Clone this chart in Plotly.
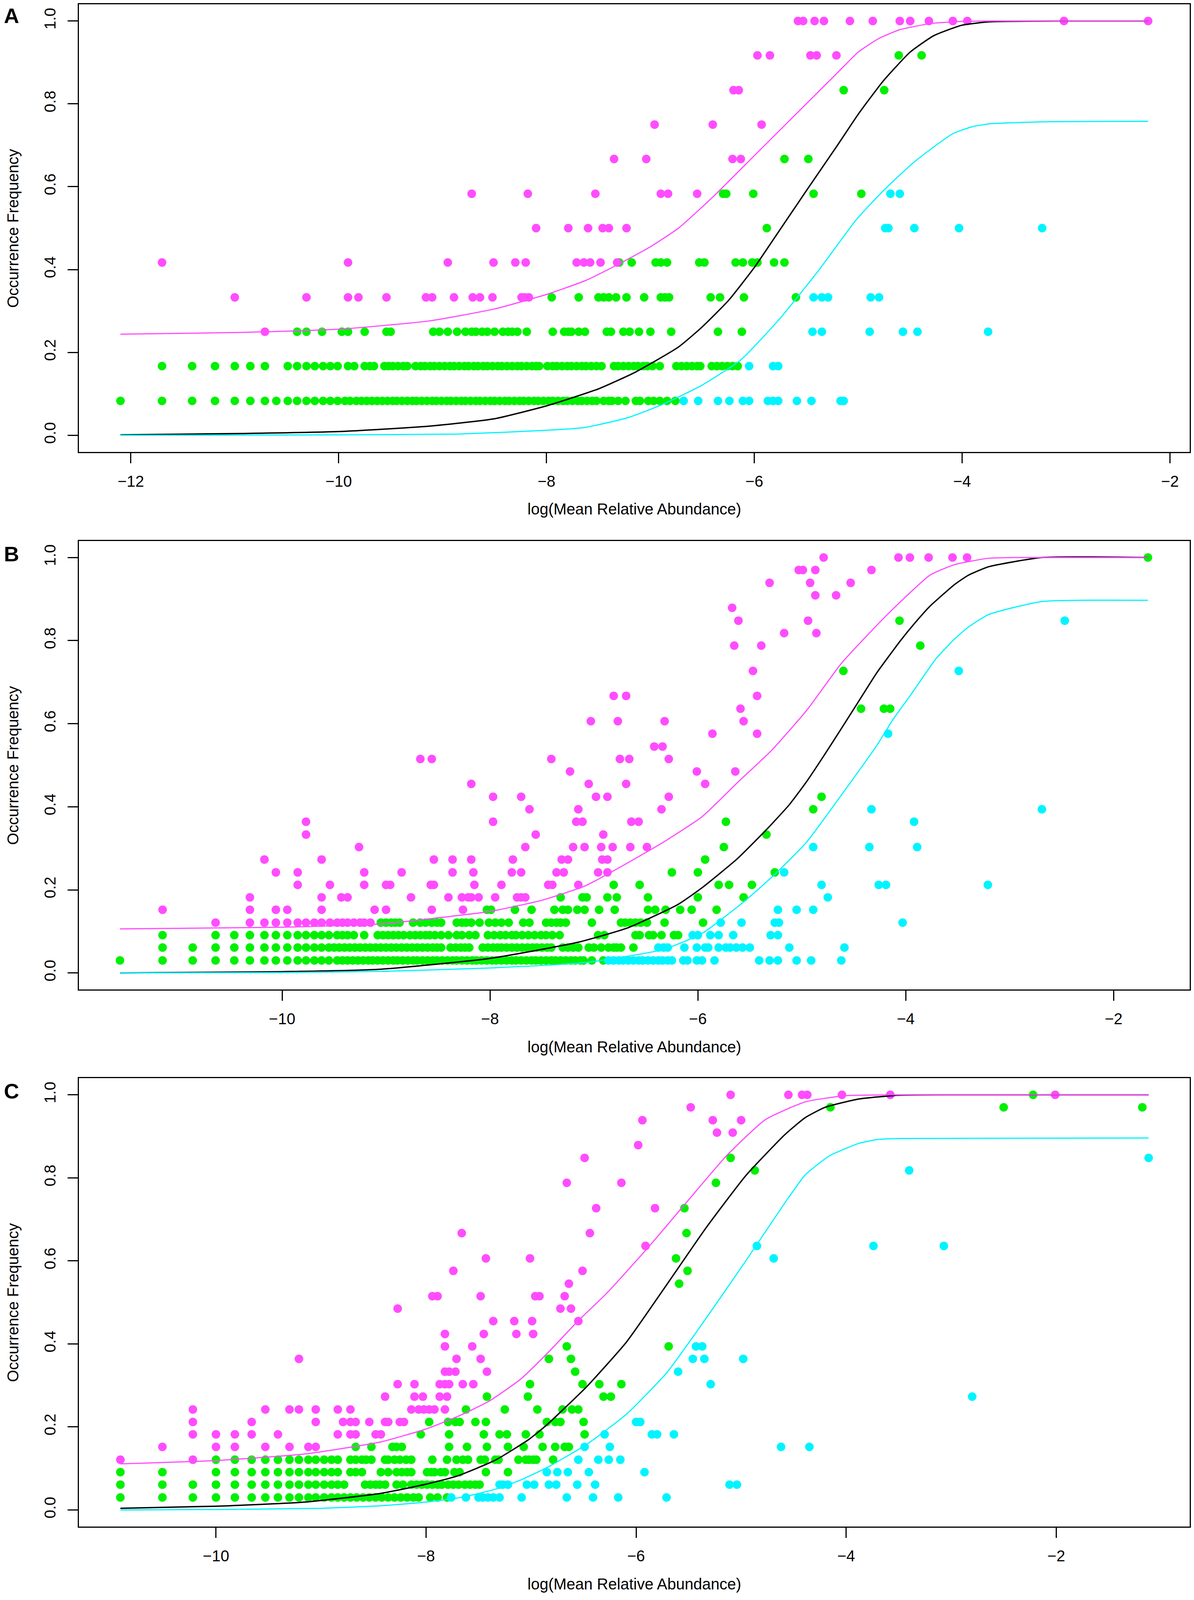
import plotly.graph_objects as go

# ---- colours --------------------------------------------------------------
PINK = "#FF4CFF"
GREEN = "#00F000"
CYAN = "#00F4FF"

# ---- panel A (rows: occurrence level, log mean relative abundance) --------
A_PINK = [
    (0.25, [-10.71]),
    (0.333, [-11.00, -10.31, -9.91, -9.81, -9.54, -9.16, -9.10, -8.89, -8.71, -8.64, -8.52, -8.24, -8.21, -8.17]),
    (0.417, [-11.70, -9.91, -8.95, -8.51, -8.30, -8.20, -7.71, -7.64, -7.58, -7.48, -7.32]),
    (0.5, [-8.10, -7.79, -7.60, -7.46, -7.40, -7.23]),
    (0.583, [-8.72, -8.18, -7.53, -6.90, -6.83, -6.55]),
    (0.667, [-7.35, -7.04, -6.21, -6.13]),
    (0.75, [-6.96, -6.40, -5.93]),
    (0.833, [-6.20, -6.15]),
    (0.917, [-5.97, -5.85, -5.46, -5.40, -5.21]),
    (1.0, [-5.58, -5.53, -5.42, -5.33, -5.08, -4.86, -4.60, -4.50, -4.32, -4.09, -3.95, -3.02, -2.21]),
]
A_GREEN = [
    (0.083, [-12.10, -11.70, -11.41, -11.19, -11.00, -10.85, -10.71, -10.60, -10.49, -10.40, -10.31,
             -10.23, -10.15, -10.08, -10.01, -9.94, -9.89, -9.83, -9.78, -9.73, -9.68, -9.63, -9.58,
             -9.53, -9.48, -9.44, -9.39, -9.34, -9.29, -9.25, -9.20, -9.15, -9.10, -9.06, -9.01, -8.96,
             -8.92, -8.87, -8.82, -8.78, -8.73, -8.68, -8.64, -8.59, -8.54, -8.50, -8.45, -8.40, -8.36,
             -8.31, -8.26, -8.22, -8.17, -8.12, -8.08, -8.03, -7.98, -7.94, -7.89, -7.84, -7.80, -7.75,
             -7.70, -7.66, -7.61, -7.56, -7.52, -7.45, -7.40, -7.37, -7.31, -7.24, -7.14, -7.10, -7.02,
             -6.97, -6.91, -6.84, -6.76]),
    (0.167, [-11.70, -11.41, -11.19, -11.00, -10.85, -10.71, -10.49, -10.40, -10.31, -10.23, -10.15,
             -10.08, -10.01, -9.91, -9.85, -9.75, -9.70, -9.66, -9.56, -9.52, -9.48, -9.43, -9.38, -9.34,
             -9.26, -9.21, -9.17, -9.12, -9.08, -9.03, -8.98, -8.93, -8.89, -8.84, -8.79, -8.75, -8.70,
             -8.66, -8.61, -8.57, -8.52, -8.47, -8.43, -8.38, -8.33, -8.28, -8.24, -8.19, -8.14, -8.10,
             -8.07, -7.99, -7.94, -7.90, -7.85, -7.80, -7.76, -7.71, -7.66, -7.62, -7.57, -7.52, -7.47,
             -7.35, -7.31, -7.26, -7.21, -7.16, -7.12, -7.07, -7.03, -6.98, -6.91, -6.75, -6.70, -6.65,
             -6.60, -6.55, -6.52, -6.41, -6.36, -6.31, -6.26, -6.21, -6.16]),
    (0.25, [-10.40, -10.31, -10.16, -9.97, -9.91, -9.75, -9.54, -9.50, -9.09, -9.03, -8.95, -8.86, -8.78,
            -8.72, -8.68, -8.62, -8.57, -8.50, -8.42, -8.37, -8.33, -8.28, -8.19, -7.94, -7.83, -7.79,
            -7.76, -7.69, -7.63, -7.42, -7.38, -7.26, -7.20, -7.11, -7.00, -6.80, -6.35, -6.12]),
    (0.333, [-7.95, -7.69, -7.50, -7.45, -7.40, -7.33, -7.23, -7.06, -6.90, -6.86, -6.82, -6.42, -6.33,
             -6.10, -5.60]),
    (0.417, [-7.30, -7.18, -6.95, -6.90, -6.84, -6.53, -6.48, -6.18, -6.11, -6.02, -5.97, -5.81, -5.71]),
    (0.5, [-5.88]),
    (0.583, [-6.30, -6.27, -6.01, -5.43, -4.97]),
    (0.667, [-5.71, -5.48]),
    (0.833, [-5.14, -4.75]),
    (0.917, [-4.61, -4.39]),
]
A_CYAN = [
    (0.083, [-6.68, -6.54, -6.35, -6.24, -6.11, -6.05, -5.87, -5.82, -5.77, -5.59, -5.45, -5.17, -5.14]),
    (0.167, [-6.05, -5.82, -5.77]),
    (0.25, [-5.44, -5.35, -4.89, -4.57, -4.43, -3.75]),
    (0.333, [-5.43, -5.35, -5.29, -4.88, -4.80]),
    (0.5, [-4.74, -4.71, -4.46, -4.03, -3.23]),
    (0.583, [-4.69, -4.60]),
]
A_FIT_X = [-12.10, -11.0, -10.0, -9.13, -8.5, -8.0, -7.5, -7.14, -6.73, -6.5, -6.25, -6.0, -5.77, -5.5,
           -5.2, -5.0, -4.76, -4.5, -4.27, -4.0, -3.73, -3.0, -2.21]
A_FIT_Y = [0.001, 0.004, 0.009, 0.022, 0.04, 0.071, 0.112, 0.153, 0.213, 0.262, 0.325, 0.405, 0.49, 0.59,
           0.70, 0.775, 0.855, 0.925, 0.965, 0.99, 0.998, 1.0, 1.0]
A_UPR_X = [-12.10, -11.0, -10.0, -9.13, -8.5, -8.0, -7.63, -7.33, -7.0, -6.73, -6.40, -6.0, -5.5, -5.2,
           -5.0, -4.8, -4.6, -4.3, -4.0, -3.7, -3.0, -2.21]
A_UPR_Y = [0.244, 0.248, 0.256, 0.276, 0.305, 0.34, 0.373, 0.41, 0.455, 0.50, 0.575, 0.675, 0.80, 0.875,
           0.925, 0.958, 0.979, 0.994, 0.999, 1.0, 1.0, 1.0]
A_LWR_X = [-12.10, -10.0, -8.86, -8.0, -7.63, -7.21, -6.88, -6.51, -6.13, -5.76, -5.39, -5.02, -4.76,
           -4.46, -4.09, -3.9, -3.73, -3.15, -2.21]
A_LWR_Y = [0.0, 0.001, 0.003, 0.012, 0.019, 0.043, 0.075, 0.12, 0.182, 0.28, 0.395, 0.52, 0.59, 0.66,
           0.728, 0.745, 0.752, 0.757, 0.758]

# ---- panel B ---------------------------------------------------------------
B_PINK = [
    (0.121, [-10.64, -10.31, -10.17, -10.06, -9.95, -9.85, -9.77, -9.69, -9.62, -9.54, -9.47, -9.42, -9.37,
             -9.31, -9.25, -9.21, -9.15]),
    (0.152, [-11.15, -10.31, -10.06, -9.95, -9.62, -9.11, -9.00, -8.56, -8.26]),
    (0.182, [-10.31, -9.62, -9.43, -9.37, -8.76, -8.40, -8.27, -8.21, -8.18, -8.11, -7.95, -7.74, -7.70, -7.66]),
    (0.212, [-9.85, -9.54, -9.21, -9.00, -8.96, -8.57, -8.54, -8.15, -7.89, -7.44, -7.40, -7.15]),
    (0.242, [-10.06, -9.85, -9.21, -8.85, -8.36, -8.16, -7.79, -7.70, -7.36, -7.29, -6.96, -6.87]),
    (0.273, [-10.17, -9.62, -8.54, -8.36, -8.18, -7.78, -7.31, -7.25, -6.92, -6.87]),
    (0.303, [-9.26, -7.66, -7.20, -7.09, -6.93, -6.82, -6.65, -6.49]),
    (0.333, [-9.77, -7.56, -6.91]),
    (0.364, [-9.77, -7.97, -7.17, -7.11, -6.64, -6.57]),
    (0.394, [-7.62, -7.15, -6.35]),
    (0.424, [-7.97, -7.70, -6.98, -6.87, -6.28]),
    (0.455, [-8.18, -7.05, -6.69, -5.93]),
    (0.485, [-7.23, -6.01, -5.64]),
    (0.515, [-8.67, -8.56, -7.41, -6.75, -6.66, -6.28]),
    (0.545, [-6.42, -6.34]),
    (0.576, [-5.86, -5.43]),
    (0.606, [-7.03, -6.77, -6.32, -5.56]),
    (0.636, [-5.59]),
    (0.667, [-6.81, -6.69, -5.43]),
    (0.727, [-5.47]),
    (0.788, [-5.65, -5.39]),
    (0.818, [-5.17, -4.86]),
    (0.848, [-5.61, -4.94]),
    (0.879, [-5.67]),
    (0.909, [-4.87, -4.67]),
    (0.939, [-5.31, -4.92, -4.53]),
    (0.970, [-5.03, -4.99, -4.87, -4.33]),
    (1.0, [-4.79, -4.07, -3.96, -3.78, -3.55, -3.41]),
]
B_GREEN = [
    (0.030, [-11.56, -11.15, -10.86, -10.64, -10.46, -10.31, -10.17, -10.06, -9.95, -9.85, -9.77, -9.69,
             -9.62, -9.55, -9.47, -9.42, -9.37, -9.32, -9.27, -9.22, -9.17, -9.13, -9.08, -9.03, -8.98,
             -8.93, -8.89, -8.84, -8.79, -8.74, -8.70, -8.65, -8.60, -8.55, -8.51, -8.46, -8.41, -8.36,
             -8.32, -8.27, -8.22, -8.17, -8.13, -8.08, -8.03, -7.98, -7.94, -7.89, -7.84, -7.79, -7.75,
             -7.70, -7.65, -7.60, -7.56, -7.51, -7.46, -7.41, -7.37, -7.32, -7.27, -7.22, -7.18, -7.13,
             -7.10, -7.02, -6.91]),
    (0.061, [-11.15, -10.86, -10.64, -10.46, -10.31, -10.17, -10.06, -9.95, -9.85, -9.77, -9.69, -9.62,
             -9.55, -9.50, -9.45, -9.40, -9.35, -9.30, -9.25, -9.20, -9.15, -9.10, -9.05, -9.00, -8.95,
             -8.90, -8.85, -8.80, -8.75, -8.70, -8.65, -8.60, -8.55, -8.51, -8.47, -8.38, -8.33, -8.28,
             -8.24, -8.20, -8.07, -8.02, -7.97, -7.93, -7.89, -7.84, -7.79, -7.74, -7.69, -7.64, -7.59,
             -7.55, -7.50, -7.45, -7.41, -7.30, -7.25, -7.20, -7.15, -7.05, -7.00, -6.93, -6.86, -6.81,
             -6.78, -6.74, -6.62]),
    (0.091, [-11.15, -10.64, -10.46, -10.31, -10.17, -10.06, -9.95, -9.85, -9.77, -9.69, -9.62, -9.55,
             -9.47, -9.42, -9.37, -9.31, -9.21, -9.08, -9.03, -8.98, -8.93, -8.88, -8.83, -8.77, -8.72,
             -8.67, -8.62, -8.58, -8.53, -8.47, -8.40, -8.32, -8.27, -8.20, -8.14, -8.02, -7.96, -7.90,
             -7.85, -7.79, -7.75, -7.69, -7.63, -7.57, -7.51, -7.46, -7.40, -7.33, -6.96, -6.90, -6.60,
             -6.56, -6.47, -6.43, -6.35, -6.23, -6.19]),
    (0.121, [-9.05, -9.00, -8.95, -8.91, -8.87, -8.74, -8.67, -8.62, -8.56, -8.51, -8.47, -8.32, -8.27,
             -8.23, -8.18, -8.10, -8.01, -7.95, -7.89, -7.82, -7.68, -7.62, -7.46, -7.41, -7.36, -7.32,
             -7.27, -7.02, -6.74, -6.70, -6.65, -6.60, -6.55, -6.49, -6.32, -5.95]),
    (0.152, [-8.03, -7.99, -7.76, -7.60, -7.38, -7.30, -7.25, -7.16, -7.09, -6.95, -6.80, -6.48, -6.41,
             -6.31, -6.17, -6.06, -5.82]),
    (0.182, [-7.32, -7.11, -7.07, -6.87, -6.78, -6.48, -6.00, -5.56]),
    (0.212, [-6.81, -6.56, -5.80, -5.70, -5.48]),
    (0.242, [-6.25, -6.00, -5.26]),
    (0.273, [-5.93]),
    (0.303, [-5.75]),
    (0.333, [-5.34]),
    (0.364, [-5.73]),
    (0.394, [-4.89]),
    (0.424, [-4.81]),
    (0.636, [-4.43, -4.21, -4.15]),
    (0.727, [-4.60]),
    (0.788, [-3.86]),
    (0.848, [-4.06]),
    (1.0, [-1.67]),
]
B_CYAN = [
    (0.030, [-6.86, -6.81, -6.76, -6.72, -6.67, -6.62, -6.57, -6.53, -6.48, -6.43, -6.38, -6.34, -6.29,
             -6.25, -6.14, -6.10, -6.01, -5.96, -5.84, -5.41, -5.31, -5.23, -5.05, -4.91, -4.62]),
    (0.061, [-6.38, -6.33, -6.29, -6.13, -6.01, -5.93, -5.90, -5.80, -5.73, -5.69, -5.63, -5.57, -5.50,
             -5.12, -4.59]),
    (0.091, [-6.05, -6.00, -5.88, -5.80, -5.66, -5.30, -5.23]),
    (0.121, [-5.78, -5.58, -5.26, -5.22, -4.03]),
    (0.152, [-5.23, -5.05, -4.89]),
    (0.182, [-4.75]),
    (0.212, [-4.81, -4.26, -4.19, -3.21]),
    (0.242, [-5.17]),
    (0.303, [-4.89, -4.35, -3.89]),
    (0.364, [-3.92]),
    (0.394, [-4.33, -2.69]),
    (0.576, [-4.17]),
    (0.727, [-3.49]),
    (0.848, [-2.47]),
]
B_FIT_X = [-11.56, -10.0, -9.05, -8.0, -7.15, -6.67, -6.19, -5.96, -5.62, -5.34, -5.12, -4.95, -4.79, -4.62,
           -4.45, -4.28, -4.05, -3.92, -3.77, -3.53, -3.40, -3.20, -2.69, -1.67]
B_FIT_Y = [0.0, 0.003, 0.009, 0.035, 0.074, 0.109, 0.165, 0.205, 0.275, 0.345, 0.405, 0.462, 0.522, 0.588,
           0.655, 0.722, 0.80, 0.84, 0.882, 0.935, 0.957, 0.978, 1.0, 1.0]
B_UPR_X = [-11.56, -10.0, -9.05, -8.59, -8.0, -7.5, -7.08, -6.71, -6.33, -5.96, -5.62, -5.29, -4.95, -4.62,
           -4.18, -3.77, -3.53, -3.21, -2.96, -1.67]
B_UPR_Y = [0.106, 0.11, 0.118, 0.13, 0.148, 0.175, 0.21, 0.26, 0.315, 0.376, 0.458, 0.536, 0.633, 0.745,
           0.862, 0.957, 0.983, 0.998, 1.0, 1.0]
B_LWR_X = [-11.56, -10.0, -9.0, -8.0, -7.08, -6.34, -5.96, -5.54, -5.24, -4.95, -4.62, -4.28, -4.12, -3.95,
           -3.71, -3.53, -3.40, -3.20, -2.69, -1.67]
B_LWR_Y = [0.0, 0.001, 0.004, 0.012, 0.025, 0.056, 0.095, 0.175, 0.242, 0.316, 0.428, 0.547, 0.611, 0.67,
           0.756, 0.804, 0.832, 0.863, 0.894, 0.897]

# ---- panel C ---------------------------------------------------------------
C_PINK = [
    (0.121, [-10.91, -10.22]),
    (0.152, [-10.51, -10.00, -9.82, -9.53, -9.30, -9.12, -9.05]),
    (0.182, [-10.22, -10.00, -9.82, -9.66, -9.41, -8.84, -8.72, -8.67, -8.48, -8.43]),
    (0.212, [-10.22, -9.66, -9.05, -8.79, -8.72, -8.67, -8.54, -8.39, -8.36, -8.25, -8.21]),
    (0.242, [-10.22, -9.53, -9.30, -9.21, -9.05, -8.84, -8.72, -8.14, -8.07, -8.02, -7.97, -7.92, -7.82]),
    (0.273, [-8.39, -8.11, -8.03, -7.87, -7.80]),
    (0.303, [-8.27, -8.11, -7.87, -7.82, -7.78, -7.65, -7.55]),
    (0.333, [-7.82, -7.78, -7.72, -7.42]),
    (0.364, [-9.21, -7.71, -7.48]),
    (0.394, [-7.82, -7.56]),
    (0.424, [-7.82, -7.45, -7.14, -6.98]),
    (0.455, [-7.36, -7.16, -6.99, -6.55]),
    (0.485, [-8.27, -6.72, -6.62]),
    (0.515, [-7.94, -7.89, -7.48, -6.96, -6.92, -6.68]),
    (0.545, [-6.64]),
    (0.576, [-7.74, -6.51]),
    (0.606, [-7.43, -7.01]),
    (0.636, [-5.91]),
    (0.667, [-7.66, -6.44]),
    (0.727, [-6.38, -5.82]),
    (0.788, [-6.66, -6.14]),
    (0.848, [-6.49]),
    (0.879, [-5.98]),
    (0.909, [-5.23, -5.08]),
    (0.939, [-5.94, -5.27, -5.00]),
    (0.970, [-5.48]),
    (1.0, [-5.10, -4.55, -4.42, -4.37, -4.04, -3.58, -2.01]),
]
C_GREEN = [
    (0.030, [-10.91, -10.51, -10.22, -10.00, -9.82, -9.66, -9.53, -9.41, -9.30, -9.21, -9.12, -9.05, -8.97,
             -8.90, -8.84, -8.78, -8.72, -8.66, -8.60, -8.54, -8.48, -8.42, -8.36, -8.30, -8.24, -8.18,
             -8.12, -8.07, -7.96, -7.89, -7.80]),
    (0.061, [-10.91, -10.51, -10.22, -10.00, -9.82, -9.66, -9.53, -9.41, -9.30, -9.21, -9.12, -9.05, -8.97,
             -8.90, -8.84, -8.78, -8.58, -8.53, -8.48, -8.44, -8.39, -8.28, -8.22, -8.14, -8.09, -8.04,
             -7.99, -7.94, -7.89, -7.85, -7.79, -7.74, -7.69, -7.63, -7.58, -7.53, -7.49]),
    (0.091, [-10.91, -10.51, -10.00, -9.82, -9.66, -9.53, -9.41, -9.30, -9.21, -9.12, -9.05, -8.97, -8.90,
             -8.84, -8.72, -8.67, -8.61, -8.43, -8.36, -8.28, -8.23, -8.18, -8.14, -7.99, -7.95, -7.92,
             -7.86, -7.82, -7.73, -7.68, -7.43, -7.22]),
    (0.121, [-10.00, -9.82, -9.66, -9.53, -9.41, -9.30, -9.21, -9.12, -9.05, -8.97, -8.90, -8.84, -8.72,
             -8.67, -8.61, -8.57, -8.52, -8.39, -8.36, -8.30, -8.25, -8.19, -8.14, -7.94, -7.80, -7.71,
             -7.65, -7.60, -7.48, -7.44, -7.34, -7.31, -7.12, -7.05, -7.02, -6.98, -6.95, -6.79]),
    (0.152, [-8.67, -8.52, -8.32, -8.28, -8.23, -7.78, -7.61, -7.42, -7.22, -7.07, -6.89, -6.77, -6.68,
             -6.64]),
    (0.182, [-8.05, -7.78, -7.45, -7.30, -7.23, -7.05, -6.92, -6.49]),
    (0.212, [-7.97, -7.79, -7.72, -7.68, -7.53, -7.43, -6.85, -6.77, -6.72, -6.50]),
    (0.242, [-7.62, -7.25, -6.94, -6.70, -6.61, -6.55]),
    (0.273, [-7.42, -7.03, -6.31, -6.24]),
    (0.303, [-7.01, -6.51, -6.35, -6.14]),
    (0.333, [-6.58]),
    (0.364, [-6.83, -6.62]),
    (0.394, [-6.66, -5.69]),
    (0.545, [-5.59]),
    (0.576, [-5.51]),
    (0.606, [-5.62]),
    (0.667, [-5.52]),
    (0.727, [-5.54]),
    (0.788, [-5.24]),
    (0.818, [-4.87]),
    (0.848, [-5.10]),
    (0.970, [-4.15, -2.50, -1.18]),
    (1.0, [-2.22]),
]
C_CYAN = [
    (0.030, [-7.76, -7.62, -7.50, -7.46, -7.41, -7.36, -7.30, -7.09, -6.66, -6.41, -6.17, -5.71]),
    (0.061, [-7.30, -7.27, -7.22, -7.04, -6.97, -6.83, -6.76, -6.56, -6.39, -5.11, -5.04]),
    (0.091, [-6.85, -6.75, -6.65, -6.45, -5.92]),
    (0.121, [-6.55, -6.36, -6.26, -6.15]),
    (0.152, [-6.49, -6.25, -4.62, -4.35]),
    (0.182, [-6.30, -5.85, -5.80, -5.64]),
    (0.212, [-6.00, -5.96]),
    (0.273, [-2.80]),
    (0.303, [-5.29]),
    (0.333, [-5.60]),
    (0.364, [-5.46, -5.35, -4.98]),
    (0.394, [-5.43, -5.37]),
    (0.606, [-4.69]),
    (0.636, [-4.85, -3.74, -3.07]),
    (0.818, [-3.40]),
    (0.848, [-1.12]),
]
C_FIT_X = [-10.91, -10.0, -9.15, -8.43, -8.0, -7.70, -7.34, -7.02, -6.85, -6.47, -6.09, -5.71, -5.33, -4.95,
           -4.58, -4.39, -4.20, -3.88, -3.5, -3.0, -1.12]
C_FIT_Y = [0.004, 0.009, 0.019, 0.04, 0.062, 0.082, 0.12, 0.17, 0.205, 0.297, 0.405, 0.542, 0.681, 0.807,
           0.905, 0.945, 0.97, 0.99, 0.999, 1.0, 1.0]
C_UPR_X = [-10.91, -10.0, -9.15, -8.43, -8.0, -7.70, -7.40, -7.10, -6.85, -6.55, -6.28, -5.90, -5.52, -5.14,
           -4.77, -4.39, -4.01, -3.58, -1.12]
C_UPR_Y = [0.111, 0.119, 0.135, 0.164, 0.195, 0.225, 0.262, 0.315, 0.376, 0.456, 0.522, 0.628, 0.741, 0.853,
           0.94, 0.983, 0.998, 1.0, 1.0]
C_LWR_X = [-10.91, -10.0, -9.0, -8.43, -8.0, -7.67, -7.34, -7.10, -6.85, -6.47, -6.09, -5.71, -5.33, -4.95,
           -4.58, -4.39, -4.16, -3.88, -3.71, -3.46, -1.12]
C_LWR_Y = [0.0, 0.001, 0.004, 0.01, 0.019, 0.03, 0.05, 0.072, 0.102, 0.158, 0.231, 0.33, 0.463, 0.602,
           0.741, 0.807, 0.853, 0.883, 0.892, 0.895, 0.896]

# axis ranges (R pads data range by 4%)
X_RANGES = [[-12.50, -1.81], [-11.955, -1.268], [-11.305, -0.729]]
X_TICKS = [[-12, -10, -8, -6, -4, -2], [-10, -8, -6, -4, -2], [-10, -8, -6, -4, -2]]
LETTERS = ["A", "B", "C"]

# page geometry: the plot div sits inside the 8px body margin of the page
PW, PH = 3056, 4614
DW, DH = PW - 16, PH - 16


def px_x(x):
    return (x - 8) / DW


def px_y(y):
    return 1 - (y - 8) / DH


X_DOMAIN = [px_x(202), px_x(3046)]
Y_DOMAINS = [[px_y(1301), px_y(9.5)], [px_y(2853), px_y(1558)], [px_y(4403), px_y(3109)]]
LETTER_Y = [px_y(42), px_y(1596), px_y(3146)]
XTITLE_Y = -0.128

FONT = "Liberation Sans, Arial, Helvetica, sans-serif"


def expand(rows):
    xs, ys = [], []
    for level, vals in rows:
        for v in vals:
            xs.append(v)
            ys.append(level)
    return xs, ys


panels = [
    (A_GREEN, A_PINK, A_CYAN, (A_FIT_X, A_FIT_Y), (A_UPR_X, A_UPR_Y), (A_LWR_X, A_LWR_Y)),
    (B_GREEN, B_PINK, B_CYAN, (B_FIT_X, B_FIT_Y), (B_UPR_X, B_UPR_Y), (B_LWR_X, B_LWR_Y)),
    (C_GREEN, C_PINK, C_CYAN, (C_FIT_X, C_FIT_Y), (C_UPR_X, C_UPR_Y), (C_LWR_X, C_LWR_Y)),
]

fig = go.Figure()
for i, (green, pink, cyan, fit, upr, lwr) in enumerate(panels):
    xa = "x" if i == 0 else f"x{i + 1}"
    ya = "y" if i == 0 else f"y{i + 1}"
    for rows, col in [(green, GREEN), (pink, PINK), (cyan, CYAN)]:
        xs, ys = expand(rows)
        fig.add_trace(go.Scatter(x=xs, y=ys, mode="markers", xaxis=xa, yaxis=ya,
                                 marker=dict(size=22, color=col, line=dict(width=0)),
                                 showlegend=False, hoverinfo="skip"))
    for (lx, ly), col, w in [(fit, "black", 3.5), (upr, PINK, 3), (lwr, CYAN, 3)]:
        fig.add_trace(go.Scatter(x=lx, y=ly, mode="lines", xaxis=xa, yaxis=ya,
                                 line=dict(color=col, width=w, shape="spline", smoothing=0.5),
                                 showlegend=False, hoverinfo="skip"))

axis_common = dict(showgrid=False, zeroline=False, showline=True, mirror=True,
                   linecolor="black", linewidth=3, ticks="outside", ticklen=26,
                   tickwidth=3, tickcolor="black",
                   tickfont=dict(family=FONT, size=40, color="black"))

layout = dict(autosize=True, margin=dict(l=0, r=0, t=0, b=0),
              paper_bgcolor="white", plot_bgcolor="white",
              font=dict(family=FONT, size=40, color="black"))
annotations = []
for i in range(3):
    xk = "xaxis" if i == 0 else f"xaxis{i + 1}"
    yk = "yaxis" if i == 0 else f"yaxis{i + 1}"
    xa = "x" if i == 0 else f"x{i + 1}"
    ya = "y" if i == 0 else f"y{i + 1}"
    layout[xk] = dict(axis_common, domain=X_DOMAIN, range=X_RANGES[i],
                      tickvals=X_TICKS[i], anchor=ya, ticklabelstandoff=12)
    layout[yk] = dict(axis_common, domain=Y_DOMAINS[i], range=[-0.04, 1.04],
                      tickvals=[0, 0.2, 0.4, 0.6, 0.8, 1.0], tickformat=".1f",
                      tickangle=-90, anchor=xa, ticklabelstandoff=15)
    annotations.append(dict(text="log(Mean Relative Abundance)", xref=f"{xa} domain", x=0.5,
                            yref=f"{ya} domain", y=XTITLE_Y, showarrow=False,
                            xanchor="center", yanchor="middle", font=dict(size=40)))
    annotations.append(dict(text="Occurrence Frequency", xref="paper", x=px_x(33),
                            yref=f"{ya} domain", y=0.5, showarrow=False, textangle=-90,
                            xanchor="center", yanchor="middle", font=dict(size=40)))
    annotations.append(dict(text=f"<b>{LETTERS[i]}</b>", xref="paper", x=px_x(30),
                            yref="paper", y=LETTER_Y[i], showarrow=False,
                            xanchor="center", yanchor="middle", font=dict(size=54)))
layout["annotations"] = annotations
fig.update_layout(**layout)

# the plot fills the browser window (minus the default body margin)
fig.write_html("out.html", default_width="calc(100vw - 16px)",
               default_height="calc(100vh - 16px)")
